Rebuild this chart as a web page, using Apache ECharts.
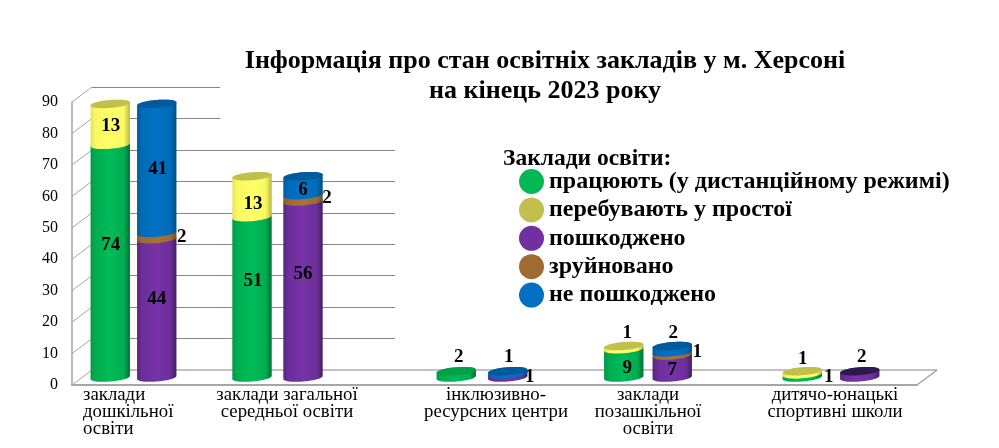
<!DOCTYPE html>
<html><head><meta charset="utf-8">
<style>html,body{margin:0;padding:0;background:#fff}#c{width:999px;height:448px}</style>
<script src="https://cdn.jsdelivr.net/npm/echarts@6/dist/echarts.min.js"></script>
</head><body><div id="c"></div>
<script>
// ---- data ----
const categories = ['заклади\nдошкільної\nосвіти','заклади загальної\nсередньої освіти','інклюзивно-\nресурсних центри','заклади\nпозашкільної\nосвіти','дитячо-юнацькі\nспортивні школи'];
const working   = [74,51,2,9,1];
const idle      = [13,13,0,1,1];
const damaged   = [44,56,1,7,2];
const destroyed = [2,2,0,1,0];
const undamaged = [41,6,1,2,0];
const yTicks    = [0,10,20,30,40,50,60,70,80,90];
const titleText = 'Інформація про стан освітніх закладів у м. Херсоні\nна кінець 2023 року';
const legendTitle = 'Заклади освіти:';
const seriesNames = ['працюють (у дистанційному режимі)','перебувають у простої','пошкоджено','зруйновано','не пошкоджено'];

// ---- layout and style (pixel nudges relative to the axis scales) ----
const SERIF = '"Liberation Serif","Times New Roman",serif';
const catShift = [-23,-48,-12.5,-15.5,-1.5];
const colGap   = [46.5,51,51.5,48.5,57.5];
const labelShift = [-73.5,-38.5,1.5,-15.5,2.5];
const labelAlign = ['left','center','center','center','center'];
const LIFT = 7.5, DX = 20, DY = 15, RY = 4, TILT = 0.08;
const grad = (a,b,c,d)=>({type:'linear',x:0,y:0,x2:1,y2:0,colorStops:[{offset:0,color:a},{offset:.12,color:b},{offset:.5,color:c},{offset:.85,color:b},{offset:1,color:d}]});
const looks = [
 {flat:'#00b956',cap:'#00a047',fill:grad('#009a49','#00ac50','#00bb58','#006f34')},
 {flat:'#c1bf4e',cap:'#c1bf4e',fill:grad('#e4e458','#f8f862','#ffff68','#b8b844')},
 {flat:'#7030a0',cap:'#2d1850',fill:grad('#55257c','#6b2e99','#7733a8','#43205f')},
 {flat:'#9e6b35',cap:'#8a5c2c',fill:grad('#85592b','#9e6b35','#a87238','#74501f')},
 {flat:'#0070c0',cap:'#005a9c',fill:grad('#005c9e','#006bb8','#0072c4','#004d85')}
];
// label nudges from the segment centre: [dx,dy] per category
const nudges = [
 [[0.5,-16],[1,-16],[2.5,-17],[3.5,5],[26.5,1]],
 [[0.5,2],[1,7],[0,0],[3.5,-15],[0.5,-14]],
 [[0,-9],[0,-15],[22,1],[0,3.5],[2,-17]],
 [[25,1],[24,0],[0,0],[25,-2],[0,0]],
 [[1,1],[0,4],[1,-16],[1,-16],[0,0]]
];

function ring(cx,cy,rx,from,to,n){
  const pts=[];
  for(let k=0;k<=n;k++){
    const t=from+(to-from)*k/n, c=Math.cos(t), s=Math.sin(t);
    pts.push([cx+rx*c, cy+RY*s-TILT*rx*c]);
  }
  return pts;
}
function segmentSeries(s,column,stackBelow,values,stackAbove){
  const rows = values.map((v,i)=>[i,stackBelow[i],stackBelow[i]+v,v,stackAbove[i]]);
  return {
    type:'custom',name:seriesNames[s],xAxisIndex:0,yAxisIndex:0,z:3,clip:false,
    itemStyle:{color:looks[s].flat},
    data:rows,
    encode:{x:0,y:2},
    renderItem(params,api){
      const i=api.value(0),lo=api.value(1),hi=api.value(2),v=api.value(3),above=api.value(4);
      if(!v) return null;
      const band=api.coord([i,0])[0]+catShift[i];
      const cx=band+column*colGap[i]/2;
      const rx=api.size([1,0])[0]*0.1165;
      const yLo=api.coord([i,lo])[1]-LIFT, yHi=api.coord([i,hi])[1]-LIFT;
      const kids=[{type:'polygon',shape:{points:ring(cx,yHi,rx,Math.PI,2*Math.PI,24).concat(ring(cx,yLo,rx,0,Math.PI,24))},style:{fill:looks[s].fill},z2:1}];
      if(!above) kids.push({type:'polygon',shape:{points:ring(cx,yHi,rx,0,2*Math.PI,48)},style:{fill:looks[s].cap},z2:2});
      const n=nudges[s][i];
      kids.push({type:'text',z2:50,style:{x:cx+n[0],y:(yLo+yHi)/2+n[1],text:String(v),fill:'#000',align:'center',verticalAlign:'middle',font:'bold 19px '+SERIF}});
      return {type:'group',children:kids};
    }
  };
}
const zero=categories.map(()=>0);
const add=(a,b)=>a.map((x,i)=>x+b[i]);
const damagedTop=add(damaged,destroyed);

const depthSeries={
  type:'custom',name:'depth',xAxisIndex:0,yAxisIndex:0,z:2,clip:false,silent:true,
  data:yTicks.map(t=>[0,t]),encode:{x:0,y:1},
  renderItem(params,api){
    const t=api.value(1),p=api.coord([0,t]),x0=params.coordSys.x,xEnd=x0+params.coordSys.width;
    const kids=[{type:'line',shape:{x1:x0,y1:p[1],x2:x0+DX,y2:p[1]-DY},style:{stroke:'#a6a6a6',lineWidth:1}}];
    if(t===0){
      kids.push({type:'line',shape:{x1:xEnd,y1:p[1],x2:xEnd+DX,y2:p[1]-DY},style:{stroke:'#a6a6a6',lineWidth:1.5}});
      kids.push({type:'line',shape:{x1:x0+DX,y1:p[1]-DY,x2:xEnd+DX,y2:p[1]-DY},style:{stroke:'#868686',lineWidth:1.2}});
    }
    return {type:'group',children:kids};
  }
};
const catLabelSeries={
  type:'custom',name:'categoryLabels',xAxisIndex:0,yAxisIndex:0,z:3,clip:false,silent:true,
  data:categories.map((c,i)=>[i,0]),encode:{x:0,y:1},
  renderItem(params,api){
    const i=api.value(0),p=api.coord([i,0]);
    return {type:'text',style:{x:p[0]+labelShift[i],y:p[1]+2,text:categories[i],fill:'#000',align:labelAlign[i],verticalAlign:'top',font:'18.8px '+SERIF,lineHeight:17}};
  }
};

const chart=echarts.init(document.getElementById('c'),null,{renderer:'canvas'});
chart.setOption({
  animation:false,backgroundColor:'#fff',
  title:[
    {text:titleText,left:545,top:46,padding:0,textAlign:'center',textStyle:{fontFamily:SERIF,fontWeight:'bold',fontSize:26,lineHeight:30,color:'#000'}},
    {text:legendTitle,left:503,top:147,padding:0,textStyle:{fontFamily:SERIF,fontWeight:'bold',fontSize:23.5,color:'#000'}}
  ],
  legend:{orient:'vertical',left:514,top:164,itemWidth:25,itemHeight:25,itemGap:3.4,selectedMode:false,
    data:seriesNames.map(n=>({name:n,icon:'circle'})),
    textStyle:{fontFamily:SERIF,fontWeight:'bold',fontSize:24,color:'#000'}},
  grid:[
    {left:72,width:845,top:102,height:283},
    {left:92,width:845,top:87,height:283}
  ],
  xAxis:[
    {type:'category',gridIndex:0,data:categories,axisLine:{lineStyle:{color:'#a6a6a6',width:2}},axisTick:{show:false},axisLabel:{show:false}},
    {type:'category',gridIndex:1,data:categories,show:false}
  ],
  yAxis:[
    {type:'value',gridIndex:0,min:0,max:90,interval:10,axisLine:{show:true,lineStyle:{color:'#a6a6a6',width:1.5}},axisTick:{show:false},splitLine:{show:false},
     axisLabel:{margin:14,color:'#000',fontFamily:SERIF,fontSize:16,padding:[0,0,6,0]}},
    {type:'value',gridIndex:1,min:0,max:90,interval:10,axisLine:{show:false},axisTick:{show:false},axisLabel:{show:false},
     splitLine:{show:true,showMinLine:false,lineStyle:{color:'#868686',width:1.2}}}
  ],
  graphic:{elements:[
    {type:'rect',z:1,silent:true,shape:{x:220,y:80,width:779,height:50},style:{fill:'#fff'}},
    {type:'rect',z:1,silent:true,shape:{x:395,y:130,width:604,height:215},style:{fill:'#fff'}}
  ]},
  series:[
    depthSeries,
    segmentSeries(0,-1,zero,working,idle),
    segmentSeries(1,-1,working,idle,zero),
    segmentSeries(2,1,zero,damaged,add(destroyed,undamaged)),
    segmentSeries(3,1,damaged,destroyed,undamaged),
    segmentSeries(4,1,damagedTop,undamaged,zero),
    catLabelSeries
  ]
});
</script></body></html>
